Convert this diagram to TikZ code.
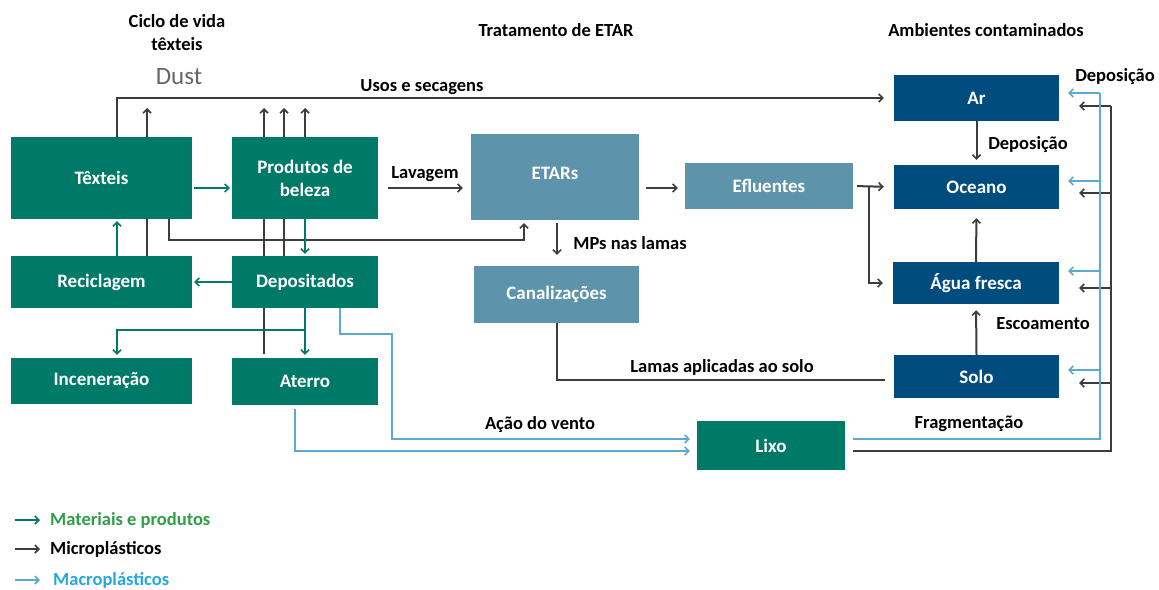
\documentclass[tikz,border=0pt]{standalone}
\usepackage{fontspec}
\setmainfont{Carlito}
\usetikzlibrary{arrows.meta}
\definecolor{gbox}{HTML}{007A68}
\definecolor{dbox}{HTML}{004C7E}
\definecolor{tbox}{HTML}{5D93AB}
\definecolor{mpc}{HTML}{3C3C3C}
\definecolor{macc}{HTML}{5BAAD2}
\definecolor{leggreen}{HTML}{2E9E48}
\definecolor{legblue}{HTML}{27A7DF}
\tikzset{
  box/.style={draw=none,inner sep=0pt,align=center,text=white,font=\fontsize{19}{23}\selectfont\bfseries},
  gb/.style={box,fill=gbox},
  db/.style={box,fill=dbox},
  tb/.style={box,fill=tbox},
  tip/.style={-{Straight Barb[length=4pt,width=8pt,line width=1.6pt]}},
  mp/.style={draw=mpc,line width=2pt},
  mac/.style={draw=macc,line width=2pt},
  mat/.style={draw=gbox,line width=2.2pt},
  lbl/.style={inner sep=0pt,font=\fontsize{18.5}{23}\selectfont\bfseries,text=black},
}
\begin{document}
\begin{tikzpicture}[x=1pt,y=-1pt]
\useasboundingbox (0,0) rectangle (1159,589);
% boxes
\node[gb,minimum width=181pt,minimum height=82pt] (tex) at (101.5,178) {Têxteis};
\node[gb,minimum width=146pt,minimum height=82pt] (prod) at (305,178) {Produtos de\\beleza};
\node[gb,minimum width=181pt,minimum height=52pt] (rec) at (101.5,282) {Reciclagem};
\node[gb,minimum width=146pt,minimum height=52pt] (dep) at (305,282) {Depositados};
\node[gb,minimum width=181pt,minimum height=46pt] (inc) at (101.5,381) {Inceneração};
\node[gb,minimum width=146pt,minimum height=47pt] (ate) at (305,381.5) {Aterro};
\node[tb,minimum width=168pt,minimum height=86pt,text depth=8pt] (etar) at (555,177) {ETARs};
\node[tb,minimum width=168pt,minimum height=46pt] (efl) at (769,186) {Efluentes};
\node[tb,minimum width=165pt,minimum height=57pt] (can) at (556.5,294.5) {Canalizações};
\node[gb,minimum width=148pt,minimum height=49pt] (lixo) at (771,445.5) {Lixo};
\node[db,minimum width=165pt,minimum height=46pt] (ar) at (976.5,98) {Ar};
\node[db,minimum width=165pt,minimum height=44pt] (oce) at (976.5,187) {Oceano};
\node[db,minimum width=166pt,minimum height=42pt] (agua) at (976,283) {Água fresca};
\node[db,minimum width=165pt,minimum height=43pt] (solo) at (976.5,376.5) {Solo};
% headings
\node[lbl,align=center] (h1) at (177,33) {Ciclo de vida\\têxteis};
\node[inner sep=0pt,font=\fontsize{25}{28}\selectfont,text=black!60] (dust) at (179,77) {Dust};
\node[lbl] (h2) at (556,30) {Tratamento de ETAR};
\node[lbl] (h3) at (986,30) {Ambientes contaminados};
% labels
\node[lbl] (lusos) at (422,87) {Usos e secagens};
\node[lbl] (llav) at (425,174) {Lavagem};
\node[lbl] (lmps) at (630,243) {MPs nas lamas};
\node[lbl] (llam) at (722,367) {Lamas aplicadas ao solo};
\node[lbl] (lvento) at (540,425) {Ação do vento};
\node[lbl] (lfrag) at (969,424) {Fragmentação};
\node[lbl] (ldep1) at (1115,77) {Deposição};
\node[lbl] (ldep2) at (1028,145) {Deposição};
\node[lbl] (lesc) at (1043,324) {Escoamento};
% dust coordinates
\coordinate (d1) at (147,108);
\coordinate (d2) at (264,108);
\coordinate (d3) at (284,108);
\coordinate (d4) at (305,108);
\coordinate (bbus) at (1100,0);
\coordinate (kbus) at (1111,0);
% microplastics (dark)
\draw[mp,tip,shorten >=10pt] (tex.north -| 117,0) |- (ar.west);
\draw[mp,tip] (tex.north -| d1) -- (d1);
\draw[mp,tip] (prod.north -| d2) -- (d2);
\draw[mp,tip] (prod.north -| d3) -- (d3);
\draw[mp,tip] (prod.north -| d4) -- (d4);
\draw[mp,tip,shorten >=3pt] (tex.south -| 169,0) |- (524,240) -- (etar.south -| 524,0);
\draw[mp] (tex.south -| d1) -- (rec.north -| d1);
\draw[mp] (prod.south -| d2) -- (dep.north -| d2);
\draw[mp] (prod.south -| d3) -- (dep.north -| d3);
\draw[mp,shorten >=4pt] (dep.south -| d2) -- (ate.north -| d2);
\draw[mp,tip,shorten <=10pt,shorten >=8pt] (prod.east |- 0,188) -- (etar.west |- 0,188);
\draw[mp,tip,shorten <=7pt,shorten >=7pt] (etar.east |- 0,188) -- (efl.west |- 0,188);
\draw[mp,tip,shorten <=3pt,shorten >=11pt] (etar.south -| 557,0) -- (can.north -| 557,0);
\draw[mp] (can.south -| 557,0) |- ([shift={(-9pt,-3.5pt)}]solo.west);
\draw[mp,tip,shorten <=4pt,shorten >=10pt] (efl.east) -- (oce.west);
\draw[mp,tip,shorten >=10pt] (efl.east -| 869,0) |- (agua.west);
\draw[mp,tip,shorten >=5pt] (ar.south) -- (oce.north);
\draw[mp,tip,shorten >=9pt] (agua.north) -- (oce.south);
\draw[mp,tip,shorten >=6pt] (solo.north) -- (agua.south);
\draw[mp,shorten <=8pt] (lixo.east |- 0,451) -- (kbus |- 0,451) -- (kbus |- 0,106);
\draw[mp,tip,shorten >=20pt] (kbus |- 0,106) -- (ar.east |- 0,106);
\draw[mp,tip,shorten >=20pt] (kbus |- 0,193) -- (oce.east |- 0,193);
\draw[mp,tip,shorten >=20pt] (kbus |- 0,288) -- (agua.east |- 0,288);
\draw[mp,tip,shorten >=20pt] (kbus |- 0,383) -- (solo.east |- 0,383);
% macroplastics (blue)
\draw[mac,shorten <=8pt] (lixo.east |- 0,439) -- (bbus |- 0,439) -- (bbus |- 0,93);
\draw[mac,tip,shorten >=9pt] (bbus |- 0,93) -- (ar.east |- 0,93);
\draw[mac,tip,shorten >=9pt] (bbus |- 0,181) -- (oce.east |- 0,181);
\draw[mac,tip,shorten >=9pt] (bbus |- 0,271) -- (agua.east |- 0,271);
\draw[mac,tip,shorten >=9pt] (bbus |- 0,370) -- (solo.east |- 0,370);
\draw[mac,tip,shorten >=7pt] (dep.south -| 340,0) |- (392,334) |- (lixo.west |- 0,439);
\draw[mac,tip,shorten <=4pt,shorten >=7pt] (ate.south -| 295,0) |- (lixo.west |- 0,451);
% materials (green)
\draw[mat,tip,shorten <=2pt,shorten >=2pt] (tex.east |- 0,188) -- (prod.west |- 0,188);
\draw[mat,tip,shorten >=2pt] (rec.north -| 117,0) -- (tex.south -| 117,0);
\draw[mat,tip,shorten >=2pt] (prod.south -| d4) -- (dep.north -| d4);
\draw[mat,tip,shorten >=2pt] (dep.west) -- (rec.east);
\draw[mat,tip,shorten >=3pt] (dep.south -| d4) -- (ate.north -| d4);
\draw[mat,tip,shorten >=3pt] (305,330) -| (inc.north -| 117,0);
% legend
\coordinate (la1) at (15,520); \coordinate (lb1) at (40,520);
\coordinate (la2) at (15,549); \coordinate (lb2) at (40,549);
\coordinate (la3) at (15,580); \coordinate (lb3) at (40,580);
\draw[mat,tip] (la1) -- (lb1);
\draw[mp,tip] (la2) -- (lb2);
\draw[mac,tip] (la3) -- (lb3);
\node[lbl,anchor=west,text=leggreen] (lg1) at (50,520) {Materiais e produtos};
\node[lbl,anchor=west] (lg2) at (50,549) {Microplásticos};
\node[lbl,anchor=west,text=legblue] (lg3) at (53,580) {Macroplásticos};
\end{tikzpicture}
\end{document}
